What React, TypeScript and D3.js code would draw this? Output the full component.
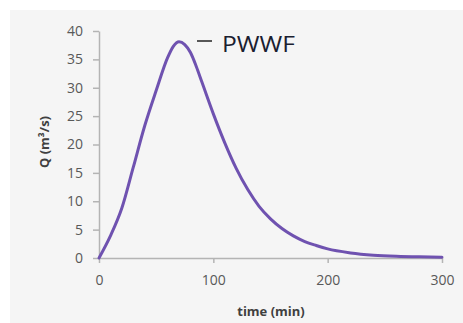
import React, { useEffect, useRef } from "react";
import * as d3 from "d3";

// Hydrograph values
const timeMin = [0, 10, 20, 30, 40, 50, 60, 65, 70, 75, 80, 85, 90, 100, 110, 120, 130, 140, 150, 160, 170, 180, 190, 200, 220, 240, 260, 280, 300];
const flowQ = [0, 3.9, 8.8, 16, 23.3, 29.5, 35.3, 37.3, 38.1, 37.6, 36.2, 33.8, 31, 25.4, 20.3, 15.8, 12.1, 9.1, 6.9, 5.2, 3.9, 2.9, 2.2, 1.6, 0.9, 0.5, 0.3, 0.2, 0.15];
const xTicks = [0, 100, 200, 300];
const yTicks = [0, 5, 10, 15, 20, 25, 30, 35, 40];
const seriesName = "PWWF";

const W = 463,
  H = 323;

function App() {
  const ref = useRef<SVGSVGElement>(null);

  useEffect(() => {
    const svg = d3.select(ref.current);
    svg.selectAll("*").remove();

    const font = "'Open Sans', 'DejaVu Sans', sans-serif";
    const axisColor = "#b4b4b4";
    const labelColor = "#595959";

    // Plot area edges
    const left = 99,
      right = 442,
      top = 31,
      bottom = 258;

    const x = d3.scaleLinear().domain([0, 300]).range([left, right]);
    const y = d3.scaleLinear().domain([0, 40]).range([bottom, top]);

    // Grey chart background
    svg
      .append("rect")
      .attr("x", 10)
      .attr("y", 10)
      .attr("width", W - 10)
      .attr("height", H - 10)
      .attr("fill", "#f5f5f5");

    // y axis
    const yAxis = svg
      .append("g")
      .attr("transform", "translate(" + left + ",0)")
      .call(d3.axisLeft(y).tickValues(yTicks).tickSize(6).tickSizeOuter(0).tickPadding(10));
    yAxis.select(".domain").attr("stroke", axisColor).attr("stroke-width", 1.5);
    yAxis.selectAll(".tick line").attr("stroke", axisColor).attr("stroke-width", 1.5);
    yAxis
      .selectAll(".tick text")
      .attr("fill", labelColor)
      .attr("font-family", font)
      .attr("font-size", 14);

    // x axis
    const xAxis = svg
      .append("g")
      .attr("transform", "translate(0," + bottom + ")")
      .call(d3.axisBottom(x).tickValues(xTicks).tickSize(5).tickSizeOuter(0).tickPadding(12));
    xAxis.select(".domain").attr("stroke", axisColor).attr("stroke-width", 1.5);
    xAxis.selectAll(".tick line").attr("stroke", axisColor).attr("stroke-width", 1.5);
    xAxis
      .selectAll(".tick text")
      .attr("fill", labelColor)
      .attr("font-family", font)
      .attr("font-size", 14);

    // Axis titles
    svg
      .append("text")
      .attr("x", 271)
      .attr("y", 316)
      .attr("text-anchor", "middle")
      .attr("font-family", font)
      .attr("font-size", 13)
      .attr("font-weight", "bold")
      .attr("fill", "#404040")
      .text("time (min)");

    svg
      .append("text")
      .attr("transform", "translate(49,142) rotate(-90)")
      .attr("text-anchor", "middle")
      .attr("font-family", font)
      .attr("font-size", 13)
      .attr("font-weight", "bold")
      .attr("fill", "#404040")
      .text("Q (m³/s)");

    // Hydrograph line
    const line = d3
      .line<number>()
      .x((d, i) => x(timeMin[i]))
      .y((d) => y(d))
      .curve(d3.curveMonotoneX);

    svg
      .append("path")
      .datum(flowQ)
      .attr("d", line)
      .attr("fill", "none")
      .attr("stroke", "#6f52b0")
      .attr("stroke-width", 3)
      .attr("stroke-linecap", "round");

    // Legend
    svg
      .append("line")
      .attr("x1", 197)
      .attr("x2", 212)
      .attr("y1", 41)
      .attr("y2", 41)
      .attr("stroke", "#222")
      .attr("stroke-width", 1.5);

    svg
      .append("text")
      .attr("x", 222)
      .attr("y", 52)
      .attr("font-family", font)
      .attr("font-size", 22)
      .attr("fill", "#1a2030")
      .attr("textLength", 73)
      .attr("lengthAdjust", "spacingAndGlyphs")
      .text(seriesName);
  }, []);

  return (
    <svg
      ref={ref}
      width={W}
      height={H}
      style={{ position: "absolute", left: 0, top: 0, background: "#fff" }}
    ></svg>
  );
}

export default App;
